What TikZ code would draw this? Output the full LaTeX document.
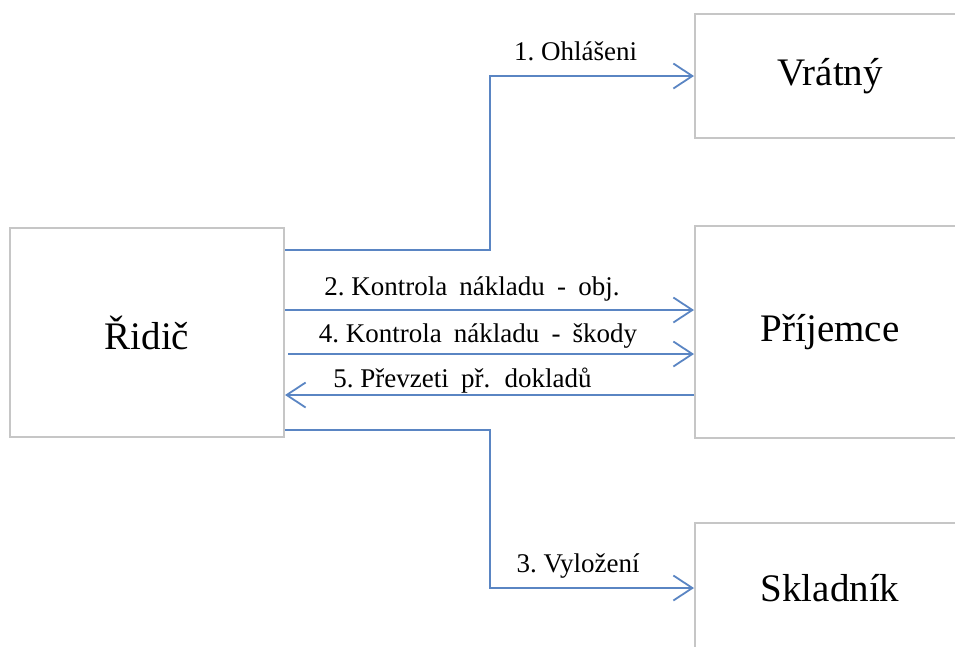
\documentclass[tikz,border=0pt]{standalone}
\usepackage{fontspec}
\setmainfont{Liberation Serif}
\newfontfamily\lblfont[WordSpace=1.8]{Liberation Serif}
\usepackage{xcolor}
\usepackage{tikz}
\usetikzlibrary{arrows.meta}

\definecolor{linkblue}{HTML}{5A85C3}
\definecolor{boxgray}{HTML}{C6C6C6}

\begin{document}
\begin{tikzpicture}[x=1pt, y=-1pt,
    box/.style={draw=boxgray, line width=2pt, inner sep=0pt, font=\fontsize{39}{42}\selectfont},
    flow/.style={draw=linkblue, line width=2pt, -{Straight Barb[length=19pt, width=25pt, line width=1.8pt]}},
    lbl/.style={anchor=base, inner sep=0pt, font=\lblfont\fontsize{27}{30}\selectfont}]
    \useasboundingbox (0,0) rectangle (955,646);
    \clip (0,0) rectangle (955,646);

    \node[box, minimum width=274, minimum height=209] (ridic) at (147,332.5) {Řidič};
    \node[box, minimum width=270, minimum height=124] (vratny) at (830,76) {Vrátný};
    \node[box, minimum width=270, minimum height=212] (prijemce) at (830,332) {Příjemce};
    \node[box, minimum width=270, minimum height=130] (skladnik) at (830,588) {Skladník};

    \draw[flow] ([yshift=82.5]ridic.east) -- ++(205,0) |- node[lbl, pos=0.71, yshift=16] {1.\hspace{.25em}Ohlášeni} (vratny.west);
    \draw[flow] ([yshift=22.5]ridic.east) -- node[lbl, pos=0.457, yshift=15] {2.\hspace{.25em}Kontrola nákladu - obj.} ([yshift=22]prijemce.west);
    \draw[flow] ([xshift=3, yshift=-21.5]ridic.east) -- node[lbl, pos=0.468, yshift=12] {4.\hspace{.25em}Kontrola nákladu - škody} ([yshift=-22]prijemce.west);
    \draw[flow] ([yshift=-63]prijemce.west) -- node[lbl, pos=0.566, yshift=8] {5.\hspace{.25em}Převzeti př. dokladů} ([yshift=-62.5]ridic.east);
    \draw[flow] ([yshift=-97.5]ridic.east) -- ++(205,0) |- node[lbl, pos=0.716, yshift=16] {3.\hspace{.25em}Vyložení} (skladnik.west);
\end{tikzpicture}
\end{document}
